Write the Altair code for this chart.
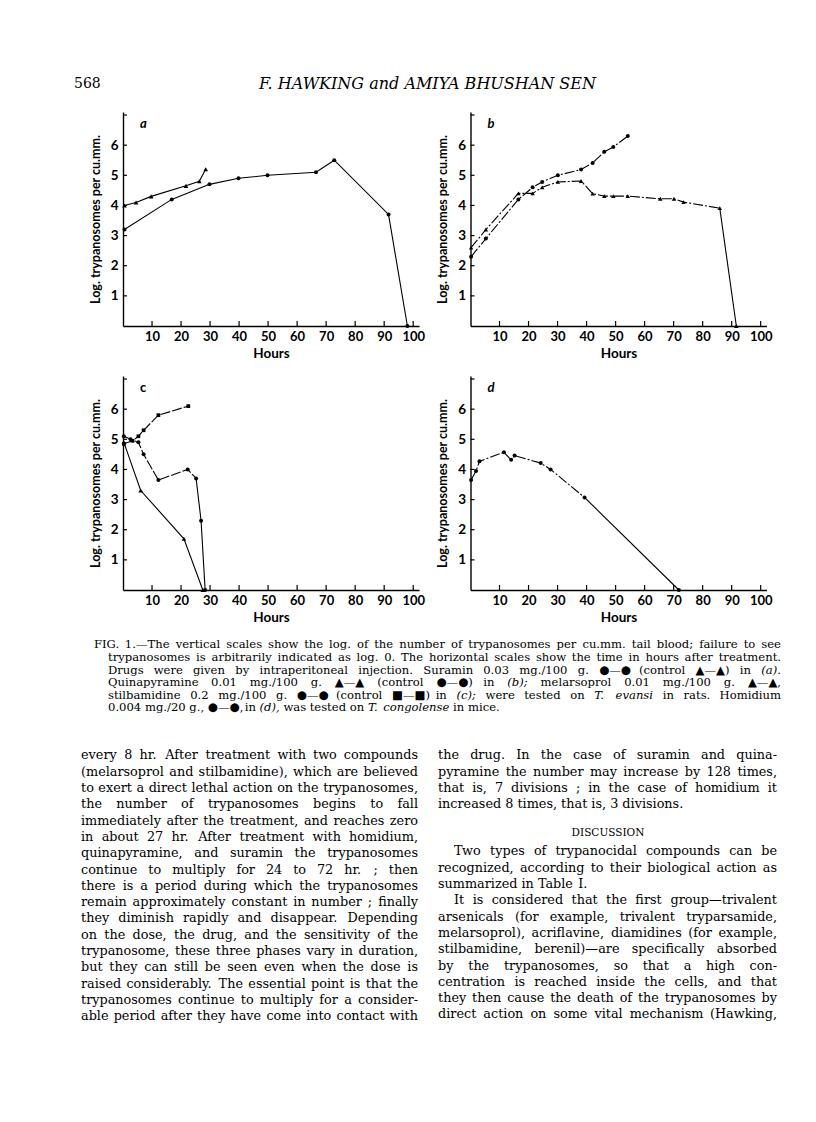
import altair as alt
import pandas as pd

# ---------------- data ----------------
# panel a: suramin (circles) and control (triangles)
a_sur_hours = [0.5, 16.8, 29.8, 39.8, 49.8, 66.5, 72.8, 91.5, 98.0]
a_sur_log = [3.2, 4.2, 4.7, 4.9, 5.0, 5.1, 5.5, 3.7, 0.0]
a_ctl_hours = [0.5, 4.5, 9.7, 21.7, 26.3, 28.5]
a_ctl_log = [4.0, 4.1, 4.3, 4.65, 4.8, 5.2]

# panel b: quinapyramine (triangles) and control (circles)
b_quin_hours = [0.2, 5.3, 16.5, 21.4, 24.7, 30.1, 38.1, 42.1, 46.1, 49.2, 54.2, 65.4, 70.1, 73.4, 85.9, 91.6]
b_quin_log = [2.6, 3.2, 4.4, 4.4, 4.6, 4.78, 4.81, 4.39, 4.31, 4.31, 4.31, 4.22, 4.22, 4.11, 3.91, 0.0]
b_ctl_hours = [0.2, 5.3, 16.5, 21.4, 24.7, 30.1, 38.1, 42.1, 46.1, 49.2, 54.2]
b_ctl_log = [2.3, 2.9, 4.2, 4.6, 4.78, 5.0, 5.19, 5.41, 5.78, 5.94, 6.3]

# panel c: melarsoprol (triangles), stilbamidine (circles), control (squares)
c_mel_hours = [0.3, 6.1, 21.0, 27.5]
c_mel_log = [4.9, 3.3, 1.7, 0.0]
c_stil_hours = [0.3, 2.6, 5.3, 7.1, 12.2, 22.3, 25.2, 26.9, 28.3]
c_stil_log = [5.1, 5.0, 4.9, 4.5, 3.65, 4.0, 3.7, 2.3, 0.0]
c_ctl_hours = [0.3, 3.3, 5.3, 7.1, 12.2, 22.5]
c_ctl_log = [4.85, 4.95, 5.1, 5.3, 5.8, 6.1]

# panel d: homidium (circles)
d_hom_hours = [0.2, 1.9, 3.1, 11.5, 14.0, 15.2, 24.2, 27.6, 39.3, 71.8]
d_hom_log = [3.65, 3.95, 4.27, 4.57, 4.32, 4.46, 4.21, 4.0, 3.07, 0.0]

x_tick_values = [10, 20, 30, 40, 50, 60, 70, 80, 90, 100]
y_tick_values = [1, 2, 3, 4, 5, 6, 7]

header_number = "568"
header_title = "F. HAWKING and AMIYA BHUSHAN SEN"

caption_lines = [
    "FIG. 1.\u2014The vertical scales show the log. of the number of trypanosomes per cu.mm. tail blood; failure to see",
    "trypanosomes is arbitrarily indicated as log. 0. The horizontal scales show the time in hours after treatment.",
    "Drugs were given by intraperitoneal injection. Suramin 0.03 mg./100 g. \u25cf\u2014\u25cf (control \u25b2\u2014\u25b2) in (a).",
    "Quinapyramine 0.01 mg./100 g. \u25b2\u2014\u25b2 (control \u25cf\u2014\u25cf) in (b); melarsoprol 0.01 mg./100 g. \u25b2\u2014\u25b2,",
    "stilbamidine 0.2 mg./100 g. \u25cf\u2014\u25cf (control \u25a0\u2014\u25a0) in (c); were tested on T. evansi in rats. Homidium",
    "0.004 mg./20 g., \u25cf\u2014\u25cf, in (d), was tested on T. congolense in mice.",
]
caption_italic_words = ["(a).", "(b);", "(c);", "(d),", "T.", "evansi", "congolense"]

left_lines = [
    "every 8 hr. After treatment with two compounds",
    "(melarsoprol and stilbamidine), which are believed",
    "to exert a direct lethal action on the trypanosomes,",
    "the number of trypanosomes begins to fall",
    "immediately after the treatment, and reaches zero",
    "in about 27 hr. After treatment with homidium,",
    "quinapyramine, and suramin the trypanosomes",
    "continue to multiply for 24 to 72 hr. ; then",
    "there is a period during which the trypanosomes",
    "remain approximately constant in number ; finally",
    "they diminish rapidly and disappear. Depending",
    "on the dose, the drug, and the sensitivity of the",
    "trypanosome, these three phases vary in duration,",
    "but they can still be seen even when the dose is",
    "raised considerably. The essential point is that the",
    "trypanosomes continue to multiply for a consider-",
    "able period after they have come into contact with",
]

right_lines_top = [
    "the drug. In the case of suramin and quina-",
    "pyramine the number may increase by 128 times,",
    "that is, 7 divisions ; in the case of homidium it",
    "increased 8 times, that is, 3 divisions.",
]
discussion_heading = "DISCUSSION"
right_lines_bottom = [
    "Two types of trypanocidal compounds can be",
    "recognized, according to their biological action as",
    "summarized in Table I.",
    "It is considered that the first group\u2014trivalent",
    "arsenicals (for example, trivalent tryparsamide,",
    "melarsoprol), acriflavine, diamidines (for example,",
    "stilbamidine, berenil)\u2014are specifically absorbed",
    "by the trypanosomes, so that a high con-",
    "centration is reached inside the cells, and that",
    "they then cause the death of the trypanosomes by",
    "direct action on some vital mechanism (Hawking,",
]
indented_right = [0, 3]
ragged_right = [2]          # paragraph end in the lower right block
ragged_top = [3]            # paragraph end in the upper right block

# ---------------- layout ----------------
W, H = 296, 214
XMAX, YMAX = 102, 7.1
SANS = "Lato"
SERIF = "DejaVu Serif"
DASHDOT = [10, 2, 2, 2]
DASH = [10, 2]


def panel(series, letter, italic_letter):
    xs = alt.Scale(domain=[0, XMAX], nice=False, zero=True)
    ys = alt.Scale(domain=[0, YMAX], nice=False, zero=True)
    x = alt.X("h:Q", scale=xs, axis=alt.Axis(
        values=x_tick_values, title="Hours", ticks=False, grid=False,
        labelOverlap=False, labelFlush=False,
        domainColor="black", domainWidth=1.4, labelFont=SANS, labelFontSize=13,
        labelFontWeight="bold", labelColor="black", labelPadding=4,
        titleFont=SANS, titleFontSize=13.5, titleFontWeight="bold",
        titleColor="black", titlePadding=3))
    y = alt.Y("v:Q", scale=ys, axis=alt.Axis(
        values=y_tick_values, labelExpr="datum.value == 7 ? '' : datum.label",
        title="Log. trypanosomes per cu.mm.", ticks=False, grid=False,
        labelOverlap=False, labelFlush=False,
        domainColor="black", domainWidth=1.4, labelFont=SANS, labelFontSize=13.5,
        labelFontWeight="bold", labelColor="black", labelPadding=5,
        titleFont=SANS, titleFontSize=12.5, titleFontWeight="bold",
        titleColor="black", titlePadding=8))
    layers = []
    for name, hours, vals, shape, size, dash, solid_from in series:
        df = pd.DataFrame({"h": hours, "v": vals, "idx": range(len(hours))})
        k = len(hours) - 1 if solid_from is None else solid_from
        if dash is not None and k > 0:
            layers.append(alt.Chart(df.iloc[:k + 1]).mark_line(
                color="black", strokeWidth=1.1, strokeDash=dash).encode(
                x=x, y=y, order="idx:Q"))
        else:
            k = 0
        if k < len(hours) - 1:
            layers.append(alt.Chart(df.iloc[k:]).mark_line(
                color="black", strokeWidth=1.1).encode(x=x, y=y, order="idx:Q"))
        layers.append(alt.Chart(df).mark_point(
            filled=True, color="black", opacity=1, shape=shape, size=size).encode(x=x, y=y))
    xt = alt.Chart(pd.DataFrame({"h": x_tick_values})).mark_rule(
        color="black", strokeWidth=1.2).encode(
        x=x, y=alt.value(H), y2=alt.value(H - 5))
    yt = alt.Chart(pd.DataFrame({"v": y_tick_values})).mark_rule(
        color="black", strokeWidth=1.2).encode(
        y=y, x=alt.value(0), x2=alt.value(4))
    lab = alt.Chart(pd.DataFrame({"t": [letter]})).mark_text(
        font=SANS, fontSize=13, fontWeight="bold",
        fontStyle="italic" if italic_letter else "normal",
        align="left", baseline="middle", color="black").encode(
        text="t:N", x=alt.value(17), y=alt.value(12))
    return alt.layer(*layers, xt, yt, lab).properties(width=W, height=H)


circ, tri, sq = "circle", "triangle-up", "square"
pa = panel([("sur", a_sur_hours, a_sur_log, circ, 16, None, None),
            ("ctl", a_ctl_hours, a_ctl_log, tri, 22, None, None)], "a", True)
pb = panel([("quin", b_quin_hours, b_quin_log, tri, 20, DASHDOT, 14),
            ("ctl", b_ctl_hours, b_ctl_log, circ, 16, DASHDOT, None)], "b", True)
pc = panel([("mel", c_mel_hours, c_mel_log, tri, 22, None, None),
            ("stil", c_stil_hours, c_stil_log, circ, 16, DASH, 6),
            ("ctl", c_ctl_hours, c_ctl_log, sq, 14, DASH, None)], "c", False)
pd_ = panel([("hom", d_hom_hours, d_hom_log, circ, 16, DASHDOT, 8)], "d", True)

# ---------- page text (justified word by word with approximate glyph widths) ----------
GW = {" ": .318, ".": .318, ",": .318, ";": .337, ":": .337, "(": .391, ")": .391,
      "-": .338, "\u2014": 1.0, "/": .337, "\u25cf": .77, "\u25b2": .77, "\u25a0": .77,
      "a": .596, "b": .640, "c": .560, "d": .640, "e": .592, "f": .371, "g": .640,
      "h": .644, "i": .320, "j": .310, "k": .608, "l": .320, "m": .949, "n": .644,
      "o": .602, "p": .640, "q": .640, "r": .478, "s": .513, "t": .402, "u": .644,
      "v": .569, "w": .833, "x": .569, "y": .569, "z": .525}
for ch in "0123456789":
    GW[ch] = .636
for ch, w in zip("ABCDEFGHIJKLMNOPQRSTUVWXYZ",
                 [.722, .687, .716, .774, .685, .646, .776, .839, .401, .40, .732, .646, .992,
                  .812, .787, .648, .787, .729, .654, .680, .790, .722, 1.045, .72, .680, .66]):
    GW[ch] = w


def est(word, size):
    return sum(GW.get(c, .6) for c in word) * size


OX, OY = 122, 638.6  # page position of the text block origin
words_l, words_r = [], []  # (px, py, word, size, italic)


def set_line(line, x0, x1, y, size, justify=True, italic=()):
    ws = line.split(" ")
    if len(ws) == 1 or not justify:
        x = x0
        for w in ws:
            words_l.append((x, y, w, size, w in italic))
            x += est(w, size) + GW[" "] * size
        return
    total = sum(est(w, size) for w in ws)
    gap = max((x1 - x0 - total) / (len(ws) - 1), 0.22 * size)
    x = x0
    for i, w in enumerate(ws):
        if i == len(ws) - 1:
            words_r.append((x1, y, w, size, w in italic))
        else:
            words_l.append((x, y, w, size, w in italic))
        x += est(w, size) + gap


# header
words_l.append((73, 83, header_number, 14, False))
words_l.append((258, 83, header_title, 16, True))

# caption
CAP_SIZE = 11.6
for i, line in enumerate(caption_lines):
    set_line(line, 93 if i == 0 else 107, 780, 644 + 12.6 * i, CAP_SIZE,
             justify=(i < len(caption_lines) - 1), italic=caption_italic_words)

# body
BODY = 12.8
LS = 16.3
for i, line in enumerate(left_lines):
    set_line(line, 80, 417, 754 + LS * i, BODY)
for i, line in enumerate(right_lines_top):
    set_line(line, 437, 776, 754 + LS * i, BODY, justify=i not in ragged_top)
for i, line in enumerate(right_lines_bottom):
    set_line(line, 453 if i in indented_right else 437, 776, 850 + LS * i, BODY,
             justify=i not in ragged_right)


def words_layer(items, align, italic):
    sel = [dict(px=px - OX, py=py - OY, t=t, fs=fs) for px, py, t, fs, it in items if it == italic]
    if not sel:
        sel = [dict(px=0, py=0, t="", fs=1)]
    return alt.Chart(pd.DataFrame(sel)).mark_text(
        font=SERIF, fontStyle="italic" if italic else "normal",
        align=align, baseline="middle", color="black").encode(
        x=alt.X("px:Q", scale=None), y=alt.Y("py:Q", scale=None), text="t:N",
        size=alt.Size("fs:Q", scale=None))


disc = alt.Chart(pd.DataFrame({"px": [607 - OX], "py": [831.5 - OY], "t": [discussion_heading]})).mark_text(
    font=SERIF, fontSize=10.5, align="center", baseline="middle", color="black").encode(
    x=alt.X("px:Q", scale=None), y=alt.Y("py:Q", scale=None), text="t:N")

anchor = alt.Chart(pd.DataFrame({"px": [8 - OX], "py": [8 - OY]})).mark_point(
    size=1, opacity=0).encode(x=alt.X("px:Q", scale=None), y=alt.Y("py:Q", scale=None))

txt = alt.layer(
    anchor,
    words_layer(words_l, "left", False), words_layer(words_l, "left", True),
    words_layer(words_r, "right", False), words_layer(words_r, "right", True), disc,
).properties(width=1, height=1)

chart = alt.concat(
    pa, pb, pc, pd_, txt, columns=2,
    spacing={"row": 50, "column": 51.5}, bounds="flush", padding=0,
).configure(background="white").configure_view(stroke=None).configure_axis(
    labelOverlap=False)

chart.save("out.html", embed_options={"renderer": "svg", "actions": False})
